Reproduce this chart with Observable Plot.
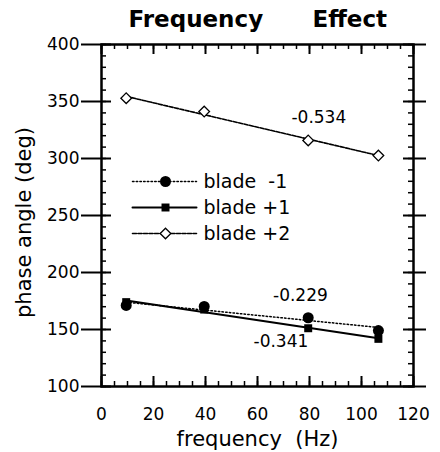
<!DOCTYPE html>
<html><head><meta charset="utf-8">
<script src="https://cdn.jsdelivr.net/npm/d3@7"></script>
<script src="https://cdn.jsdelivr.net/npm/@observablehq/plot@0.6"></script>
<style>
body{margin:0;background:#fff;}
</style></head><body><div id="wrap"></div>
<script>
// ---- data ----
const freq = [9.5, 39.5, 79.5, 106.5];              // Hz
const bladeM1 = [171.1, 170.2, 160.3, 149.1];       // deg
const bladeP1 = [174.0, 167.5, 151.1, 141.8];       // deg
const bladeP2 = [352.9, 341.2, 315.8, 302.6];       // deg
const seriesNames = ["blade  -1", "blade +1", "blade +2"];
const slopeLabels = ["-0.534", "-0.229", "-0.341"];
const slopeX = [83.6, 76.5, 69];
const slopeY = [336, 180, 139.5];
const xMajor = [0, 20, 40, 60, 80, 100, 120];
const yMajor = [100, 150, 200, 250, 300, 350, 400];
const titleWords = ["Frequency", "Effect"];
const xLabel = "frequency  (Hz)";
const yLabel = "phase angle (deg)";

const seriesValues = [bladeM1, bladeP1, bladeP2];
const rows = seriesNames.flatMap((s, k) => freq.map((f, i) => ({series: s, f, v: seriesValues[k][i]})));
const bySeries = k => rows.filter(d => d.series === seriesNames[k]);
const notes = slopeLabels.map((t, i) => ({t, x: slopeX[i], y: slopeY[i]}));
const xMinor = d3.range(0, 121, 5);
const yMinor = d3.range(100, 401, 10);

const styles = [
  {dash: "1.5,2.2", width: 1.5, symbol: "circle", r: 5.5, fill: "black", stroke: "none"},
  {dash: null, width: 2, symbol: "square", r: 4.5, fill: "black", stroke: "none"},
  {dash: "4,1.5", width: 1.6, symbol: "diamond2", r: 4.8, fill: "white", stroke: "black"}
];

const W = 440, H = 452, mT = 44, mB = 66, mL = 101, mR = 27;
const pw = W - mL - mR, ph = H - mT - mB;
const ident = d => d;
const lineShape = {draw(context, l) { context.moveTo(0, 0); context.lineTo(0, -l); }};

// legend / title layout (pixel offsets from the frame's top-left corner)
const legendDy = [137, 163, 189];
const titleDx = [27, 211];

const chart = Plot.plot({
  width: W, height: H,
  marginTop: mT, marginBottom: mB, marginLeft: mL, marginRight: mR,
  x: {domain: [0, 120], ticks: xMajor, tickSize: 1, tickPadding: 20, label: null},
  y: {domain: [100, 400]},
  style: {fontFamily: "DejaVu Sans", fontSize: "17px", color: "black", background: "white"},
  marks: [
    ...styles.map((st, k) => Plot.linearRegressionY(bySeries(k), {
      x: "f", y: "v", ci: 0, stroke: "black", strokeWidth: st.width, strokeDasharray: st.dash
    })),
    ...styles.map((st, k) => Plot.dot(bySeries(k), {
      x: "f", y: "v", symbol: st.symbol, r: st.r, fill: st.fill, stroke: st.stroke, strokeWidth: 1.3
    })),
    Plot.text(notes, {x: "x", y: "y", text: "t", fontSize: 17}),
    Plot.axisY(yMajor, {anchor: "left", tickSize: 20, tickPadding: 2, fontSize: 17, label: null}),
    Plot.tickY(yMajor, {y: ident, insetLeft: -20, insetRight: pw - 10, stroke: "black", strokeWidth: 2}),
    Plot.tickY(yMinor, {y: ident, insetRight: pw - 5, stroke: "black", strokeWidth: 1.5}),
    Plot.tickY(yMajor, {y: ident, insetLeft: pw - 10, insetRight: -13, stroke: "black", strokeWidth: 2}),
    Plot.tickY(yMinor, {y: ident, insetLeft: pw - 5, stroke: "black", strokeWidth: 1.5}),
    Plot.tickX(xMajor, {x: ident, insetTop: ph - 10, stroke: "black", strokeWidth: 2}),
    Plot.tickX(xMinor, {x: ident, insetTop: ph - 5, stroke: "black", strokeWidth: 1.5}),
    Plot.tickX(xMajor, {x: ident, insetBottom: ph - 10, stroke: "black", strokeWidth: 2}),
    Plot.tickX(xMinor, {x: ident, insetBottom: ph - 5, stroke: "black", strokeWidth: 1.5}),
    Plot.frame({stroke: "black", strokeWidth: 2.5}),
    // legend
    ...styles.map((st, k) => Plot.vector([k], {
      frameAnchor: "top-left", dx: 31, dy: legendDy[k], length: 64, rotate: 90, anchor: "start",
      shape: lineShape, stroke: "black", strokeWidth: st.width, strokeDasharray: st.dash
    })),
    ...styles.map((st, k) => Plot.dot([k], {
      frameAnchor: "top-left", dx: 64, dy: legendDy[k], symbol: st.symbol, r: st.r,
      fill: st.fill, stroke: st.stroke, strokeWidth: 1.3
    })),
    ...seriesNames.map((s, k) => Plot.text([s], {
      frameAnchor: "top-left", dx: 102, dy: legendDy[k], textAnchor: "start", lineAnchor: "middle",
      fontSize: 19, text: ident
    })),
    // title
    ...titleWords.map((w, i) => Plot.text([w], {
      frameAnchor: "top-left", dx: titleDx[i], dy: -24.5, textAnchor: "start", lineAnchor: "middle",
      fontSize: 23, fontWeight: "bold", text: ident
    })),
    // axis labels
    Plot.text([xLabel], {frameAnchor: "bottom", lineAnchor: "middle", textAnchor: "middle", dy: 53, fontSize: 21, text: ident}),
    Plot.text([yLabel], {frameAnchor: "left", lineAnchor: "middle", textAnchor: "middle", rotate: -90, dx: -77, dy: 7, fontSize: 21, text: ident})
  ]
});

const wrap = document.getElementById("wrap");
chart.style.display = "block";
wrap.appendChild(chart);
</script>
</body></html>
